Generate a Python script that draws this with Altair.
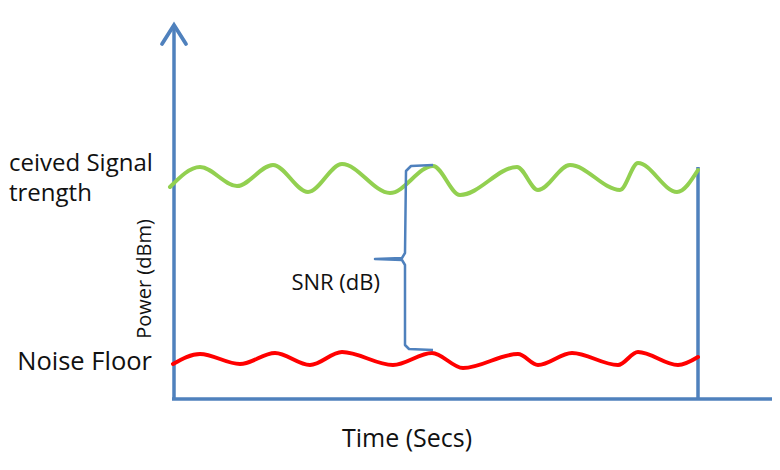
import altair as alt
import pandas as pd

# Coordinates in the diagram's own units (x: time, y: power, drawn top-down)
green_x = [170, 200, 237, 273, 308, 342, 390, 433, 460, 517, 538, 570, 620, 638, 677, 698]
green_y = [187, 167, 186, 165, 192, 164, 193, 166, 195, 167, 190, 165, 190, 163, 192, 170]

red_x = [173, 200, 240, 275, 310, 342, 393, 432, 463, 518, 538, 572, 618, 638, 678, 698]
red_y = [364, 354, 364, 353, 365, 352, 365, 353, 368, 354, 365, 353, 365, 352, 365, 357]

# axis / marker segments
seg_x = [174, 172, 698]
seg_y = [399, 399, 399]
seg_x2 = [174, 780, 698]
seg_y2 = [27, 399, 167]

arrow_x = [162, 174, 186]
arrow_y = [44, 25, 44]

brace_x = [433, 411, 406, 405, 402, 375, 402, 405, 405, 409, 433]
brace_y = [165, 166, 171, 253, 258, 259, 260, 265, 345, 349, 350]

labels = ["ceived Signal", "trength", "Noise Floor", "SNR (dB)", "Time (Secs)", "Power (dBm)"]
label_x = [9, 9, 152, 380, 407, 145]
label_y = [164, 194, 362, 283, 439, 279]
label_align = ["left", "left", "right", "right", "center", "center"]
label_size = [24, 24, 25.5, 22, 25, 20]
label_angle = [0, 0, 0, 0, 0, 270]

BLUE = "#4f81bd"
GREEN = "#92d050"
RED = "#ff0000"
TEXT = "#111111"
FONT = "Open Sans"

xs = alt.Scale(domain=[8, 772], nice=False, zero=False)
ys = alt.Scale(domain=[462, 8], nice=False, zero=False)


def X(f="x"):
    return alt.X(f"{f}:Q", scale=xs, axis=None)


def Y(f="y"):
    return alt.Y(f"{f}:Q", scale=ys, axis=None)


green = alt.Chart(pd.DataFrame({"x": green_x, "y": green_y})).mark_line(
    color=GREEN, strokeWidth=4, interpolate="monotone", strokeCap="round"
).encode(x=X(), y=Y())

red = alt.Chart(pd.DataFrame({"x": red_x, "y": red_y})).mark_line(
    color=RED, strokeWidth=4, interpolate="monotone", strokeCap="round"
).encode(x=X(), y=Y())

segs = alt.Chart(
    pd.DataFrame({"x": seg_x, "y": seg_y, "x2": seg_x2, "y2": seg_y2})
).mark_rule(color=BLUE, strokeWidth=3.5).encode(
    x=X(), y=Y(), x2="x2:Q", y2="y2:Q"
)

arrow = alt.Chart(
    pd.DataFrame({"x": arrow_x, "y": arrow_y, "o": list(range(len(arrow_x)))})
).mark_line(color=BLUE, strokeWidth=3.8, strokeJoin="miter", strokeCap="round").encode(
    x=X(), y=Y(), order="o:Q"
)

brace = alt.Chart(
    pd.DataFrame({"x": brace_x, "y": brace_y, "o": list(range(len(brace_x)))})
).mark_line(color=BLUE, strokeWidth=2.5, strokeJoin="round").encode(
    x=X(), y=Y(), order="o:Q"
)

ldf = pd.DataFrame({
    "t": labels, "x": label_x, "y": label_y, "a": label_align,
    "s": label_size, "r": label_angle,
})


def text_layer(df, align):
    return alt.Chart(df).mark_text(
        align=align, baseline="middle", font=FONT, color=TEXT
    ).encode(
        x=X(), y=Y(), text="t:N",
        size=alt.Size("s:Q", scale=None, legend=None),
        angle=alt.Angle("r:Q", scale=None),
    )


text_l = text_layer(ldf[ldf.a == "left"], "left")
text_r = text_layer(ldf[ldf.a == "right"], "right")
text_c = text_layer(ldf[ldf.a == "center"], "center")

chart = alt.layer(segs, arrow, green, red, brace, text_l, text_r, text_c).properties(
    width=764, height=454, padding=0, background="white",
    autosize=alt.AutoSizeParams(type="none"),
).configure_view(stroke="transparent", strokeWidth=0)

chart.save("out.html", embed_options={"renderer": "svg", "actions": False})
